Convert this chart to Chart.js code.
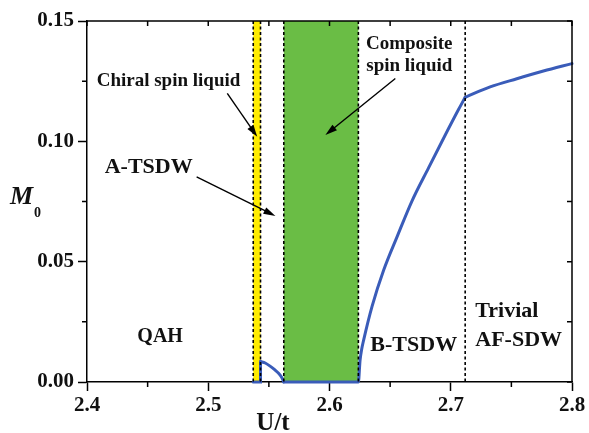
<!DOCTYPE html>
<html>
<head>
<meta charset="utf-8">
<script src="https://cdn.jsdelivr.net/npm/chart.js@4.4.1/dist/chart.umd.min.js"></script>
<style>
  html, body { margin: 0; padding: 0; background: #fff; }
  canvas { display: block; }
</style>
</head>
<body>
<canvas id="chart" width="589" height="433"></canvas>
<script>
// order parameter M0 against U/t
const uValues  = [2.5371, 2.5431, 2.5431, 2.547, 2.551, 2.555, 2.558, 2.5605, 2.5623,
                  2.6238, 2.6252, 2.6265, 2.6282, 2.6351, 2.6447, 2.6557, 2.668, 2.6817,
                  2.6941, 2.7064, 2.7119, 2.7325, 2.7545, 2.7764, 2.8];
const m0Values = [0, 0, 0.0085, 0.0079, 0.0066, 0.005, 0.0036, 0.002, 0,
                  0, 0.009, 0.0135, 0.0175, 0.0314, 0.0465, 0.0603, 0.0752, 0.089,
                  0.1013, 0.1132, 0.1183, 0.1226, 0.126, 0.1292, 0.1323];
// index ranges drawn as separate smooth pieces (jump at 2.5431, kink at 2.7119)
const pieces = [[0, 3, 'default'], [2, 9, 'monotone'], [8, 21, 'monotone'], [20, 25, 'monotone']];

// phase boundaries (dashed lines) and shaded regions
const boundaries = [2.5371, 2.5431, 2.5623, 2.6238, 2.7119];
const yellowBand = [2.5371, 2.5431];
const greenBand  = [2.5623, 2.6238];

const xTicks = [2.4, 2.5, 2.6, 2.7, 2.8];
const yTicks = [0.00, 0.05, 0.10, 0.15];

const FONT = "'Liberation Serif', 'Times New Roman', serif";
const BLUE = '#3a5cb9';

// text labels, anchored in data coordinates
const labels = [
  { text: 'Chiral spin liquid', u: 2.408, m: 0.1229, size: 19, align: 'left' },
  { text: 'Composite', u: 2.6658, m: 0.1385, size: 19, align: 'center' },
  { text: 'spin liquid', u: 2.6658, m: 0.1291, size: 19, align: 'center' },
  { text: 'A-TSDW', u: 2.4146, m: 0.0867, size: 22, align: 'left' },
  { text: 'QAH', u: 2.4415, m: 0.0168, size: 20, align: 'left' },
  { text: 'B-TSDW', u: 2.6337, m: 0.0127, size: 22, align: 'left' },
  { text: 'Trivial', u: 2.7202, m: 0.0272, size: 22, align: 'left' },
  { text: 'AF-SDW', u: 2.7202, m: 0.0148, size: 22, align: 'left' }
];
const arrows = [
  [2.5157, 0.1199, 2.5404, 0.1019],
  [2.6543, 0.1261, 2.5966, 0.1026],
  [2.4904, 0.0852, 2.5554, 0.0690]
];

function isMajorX(v) { return xTicks.some(t => Math.abs(t - v) < 1e-6); }
function isMajorY(v) { return yTicks.some(t => Math.abs(t - v) < 1e-6); }

function drawArrow(ctx, x1, y1, x2, y2) {
  const ang = Math.atan2(y2 - y1, x2 - x1), L = 12, W = 3.6;
  const c = Math.cos(ang), s = Math.sin(ang);
  ctx.beginPath();
  ctx.moveTo(x1, y1);
  ctx.lineTo(x2 - c * L * 0.7, y2 - s * L * 0.7);
  ctx.stroke();
  ctx.beginPath();
  ctx.moveTo(x2, y2);
  ctx.lineTo(x2 - c * L + s * W, y2 - s * L - c * W);
  ctx.lineTo(x2 - c * L - s * W, y2 - s * L + c * W);
  ctx.closePath();
  ctx.fill();
}

const decor = {
  id: 'decor',
  beforeDatasetsDraw(chart) {
    const { ctx, chartArea: a, scales: { x } } = chart;
    ctx.save();
    ctx.fillStyle = '#ffec00';
    ctx.fillRect(x.getPixelForValue(yellowBand[0]), a.top,
      x.getPixelForValue(yellowBand[1]) - x.getPixelForValue(yellowBand[0]), a.bottom - a.top);
    ctx.fillStyle = '#6abd45';
    ctx.fillRect(x.getPixelForValue(greenBand[0]), a.top,
      x.getPixelForValue(greenBand[1]) - x.getPixelForValue(greenBand[0]), a.bottom - a.top);
    ctx.restore();
  },
  afterDatasetsDraw(chart) {
    const { ctx, chartArea: a, scales: { x, y } } = chart;
    ctx.save();

    // dashed phase boundaries
    ctx.strokeStyle = '#000';
    ctx.lineWidth = 1.6;
    ctx.setLineDash([3, 2.5]);
    boundaries.forEach(b => {
      const px = x.getPixelForValue(b);
      ctx.beginPath();
      ctx.moveTo(px, a.top);
      ctx.lineTo(px, a.bottom);
      ctx.stroke();
    });
    ctx.setLineDash([]);

    // top and right frame
    ctx.lineWidth = 1.5;
    ctx.beginPath();
    ctx.moveTo(a.left, a.top);
    ctx.lineTo(a.right, a.top);
    ctx.lineTo(a.right, a.bottom);
    ctx.stroke();

    // minor ticks outside, all ticks inside on top/right
    ctx.beginPath();
    x.ticks.forEach(t => {
      const px = x.getPixelForValue(t.value);
      if (!isMajorX(t.value)) { ctx.moveTo(px, a.bottom); ctx.lineTo(px, a.bottom + 5); }
      ctx.moveTo(px, a.top); ctx.lineTo(px, a.top + 5);
    });
    y.ticks.forEach(t => {
      const py = y.getPixelForValue(t.value);
      if (!isMajorY(t.value)) { ctx.moveTo(a.left, py); ctx.lineTo(a.left - 5, py); }
      ctx.moveTo(a.right, py); ctx.lineTo(a.right - 5, py);
    });
    ctx.stroke();

    // arrows
    ctx.lineWidth = 1.4;
    ctx.fillStyle = '#000';
    arrows.forEach(([u1, m1, u2, m2]) => {
      drawArrow(ctx, x.getPixelForValue(u1), y.getPixelForValue(m1),
                x.getPixelForValue(u2), y.getPixelForValue(m2));
    });

    // phase labels
    ctx.fillStyle = '#111';
    ctx.textBaseline = 'alphabetic';
    labels.forEach(l => {
      ctx.font = 'bold ' + l.size + 'px ' + FONT;
      ctx.textAlign = l.align;
      ctx.fillText(l.text, x.getPixelForValue(l.u), y.getPixelForValue(l.m));
    });

    // axis titles
    ctx.textAlign = 'center';
    ctx.font = 'bold 25px ' + FONT;
    ctx.fillText('U/t', 273, 430);
    ctx.textAlign = 'left';
    ctx.font = 'italic bold 26px ' + FONT;
    ctx.fillText('M', 10, 204);
    ctx.font = 'bold 14px ' + FONT;
    ctx.fillText('0', 34, 217);

    ctx.restore();
  }
};

const datasets = pieces.map(([from, to, mode]) => ({
  data: uValues.slice(from, to).map((u, i) => ({ x: u, y: m0Values[from + i] })),
  borderColor: BLUE,
  borderWidth: 3,
  pointRadius: 0,
  tension: 0,
  cubicInterpolationMode: mode,
  borderCapStyle: 'round',
  fill: false,
  clip: 4
}));

new Chart(document.getElementById('chart'), {
  type: 'line',
  data: { datasets },
  options: {
    responsive: false,
    animation: false,
    layout: { padding: { top: 21, right: 17, left: 0, bottom: 0 } },
    plugins: { legend: { display: false }, tooltip: { enabled: false } },
    scales: {
      x: {
        type: 'linear',
        min: 2.4, max: 2.8,
        afterFit: s => { s.height = 51; },
        ticks: {
          stepSize: 0.05,
          autoSkip: false,
          maxRotation: 0,
          padding: 2,
          color: '#111',
          font: { family: FONT, size: 21, weight: 'bold' },
          callback: v => isMajorX(v) ? Number(v).toFixed(1) : ''
        },
        grid: {
          drawOnChartArea: false,
          tickLength: 9,
          tickWidth: 1.5,
          tickColor: c => (c.tick && isMajorX(c.tick.value)) ? '#000' : 'rgba(0,0,0,0)'
        },
        border: { color: '#000', width: 1.5 }
      },
      y: {
        min: 0, max: 0.15,
        afterFit: s => { s.width = 87; },
        ticks: {
          stepSize: 0.025,
          autoSkip: false,
          padding: 4,
          color: '#111',
          font: { family: FONT, size: 21, weight: 'bold' },
          callback: v => isMajorY(v) ? Number(v).toFixed(2) : ''
        },
        grid: {
          drawOnChartArea: false,
          tickLength: 9,
          tickWidth: 1.5,
          tickColor: c => (c.tick && isMajorY(c.tick.value)) ? '#000' : 'rgba(0,0,0,0)'
        },
        border: { color: '#000', width: 1.5 }
      }
    }
  },
  plugins: [decor]
});
</script>
</body>
</html>
